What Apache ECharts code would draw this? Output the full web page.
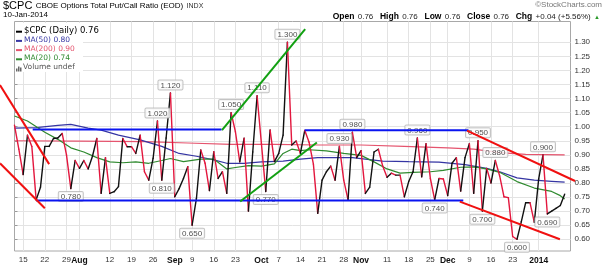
<!DOCTYPE html>
<html>
<head>
<meta charset="utf-8">
<script src="https://cdn.jsdelivr.net/npm/echarts@6.0.0/dist/echarts.min.js"></script>
<style>
html,body{margin:0;padding:0;background:#fff;}
#chart{width:605px;height:270px;}
</style>
</head>
<body>
<div id="chart"></div>
<script>
// ---------- DATA ----------
// trading-day index 0 = 11-Jul-2013 ... 127 = 10-Jan-2014
const tickIdx = [2,7,12,15,22,27,32,37,41,46,51,57,61,66,71,76,80,86,91,96,100,105,110,115,121];
const tickText = ['15','22','29','Aug','12','19','26','Sep','9','16','23','Oct','7','14','21','28','Nov','11','18','25','Dec','9','16','23','2014'];
const monthTicks = ['Aug','Sep','Oct','Nov','Dec','2014'];
const yTicks = [0.60,0.65,0.70,0.75,0.80,0.85,0.90,0.95,1.00,1.05,1.10,1.15,1.20,1.25,1.30];
const lastDate = '10-Jan-2014';

const cpc = [
 1.005,0.92,0.83,0.97,0.93,0.74,0.785,0.93,0.93,0.958,
 0.96,0.976,0.90,0.78,0.88,0.852,0.88,0.85,0.895,0.958,
 0.763,0.89,0.763,0.769,0.787,0.958,0.929,0.929,0.905,0.97,
 0.84,0.81,0.888,1.02,0.81,0.96,1.12,0.751,0.78,0.816,
 0.858,0.65,0.745,0.917,0.87,0.773,0.911,0.816,0.84,0.763,
 1.05,0.982,0.875,0.959,0.70,0.91,1.11,0.94,0.77,0.988,
 0.876,0.905,0.97,1.30,0.935,0.949,0.905,0.987,0.945,0.867,
 0.692,0.81,0.84,0.86,0.81,0.93,0.81,0.74,0.98,0.89,
 0.915,0.763,0.785,0.91,0.92,0.86,0.82,0.835,0.828,0.828,
 0.751,0.805,0.84,0.96,0.822,0.94,0.816,0.74,0.816,0.814,
 0.755,0.87,0.89,0.771,0.89,0.94,0.763,0.95,0.70,0.852,
 0.80,0.88,0.825,0.751,0.748,0.61,0.60,0.663,0.73,0.73,
 0.66,0.814,0.90,0.69,0.70,0.71,0.72,0.76
];

const ma50 = [[0,0.995],[5,0.997],[10,1.005],[13,1.008],[17,0.995],[20,0.988],[24,0.97],[29,0.953],[34,0.93],[38,0.905],[42,0.895],[46,0.882],[49,0.87],[53,0.87],[57,0.875],[62,0.878],[66,0.885],[70,0.89],[78,0.89],[85,0.878],[91,0.876],[98,0.874],[104,0.865],[109,0.852],[112,0.84],[116,0.818],[120,0.81],[124,0.806],[127,0.803]];
const ma200 = [[0,0.95],[15,0.949],[30,0.947],[40,0.942],[50,0.937],[60,0.937],[70,0.935],[80,0.935],[90,0.93],[100,0.925],[106,0.92],[112,0.908],[118,0.902],[127,0.90]];
const ma20 = [[0,1.038],[3,1.02],[7,0.98],[10,0.955],[13,0.925],[16,0.91],[19,0.89],[22,0.875],[25,0.872],[28,0.875],[31,0.87],[34,0.88],[36,0.887],[39,0.876],[43,0.885],[46,0.885],[49,0.85],[51,0.855],[54,0.862],[57,0.86],[60,0.868],[62,0.905],[64,0.92],[66,0.915],[68,0.918],[72,0.914],[76,0.905],[80,0.898],[83,0.875],[86,0.85],[89,0.835],[92,0.838],[96,0.84],[99,0.845],[103,0.856],[106,0.857],[109,0.85],[112,0.838],[116,0.805],[120,0.782],[124,0.77],[126,0.755],[127,0.743]];

const peakIdx = [33,36,50,56,63,75,78,93,107,111,122];
const troughIdx = [13,34,41,58,97,108,116,123];

// trend lines: [x1, y1, x2, y2]
const trendBlue = [[4.2,0.99,47.8,0.99], [5,0.738,103.6,0.738], [67,0.987,104.8,0.987]];
const trendGreen = [[47.9,0.988,67.1,1.347], [52.1,0.734,69.8,0.944]];
const trendRed = [[-3.35,1.148,8.0,0.867], [-3.35,0.87,7.0,0.71], [104.45,0.986,129.4,0.807], [102.8,0.734,125.9,0.60]];

// ---------- CHART ----------
const FONT = 'Liberation Sans, Arial, sans-serif';
const C_UP = '#111111', C_DN = '#e3173e';
const C50 = '#3535a3', C200 = '#e5546e', C20 = '#2f8a2f';
const last = cpc[cpc.length-1], prev = cpc[cpc.length-2];
const chg = last - prev, pct = chg / prev * 100;

const segs = cpc.slice(0,-1).map((v,i)=>[i, v, cpc[i+1]]);

function trendSeries(lines, color){
  return {
    type:'custom', data:lines, encode:{x:[0,2], y:[1,3]}, z:6, silent:true, clip:false,
    renderItem:(params, api) => {
      const p0 = api.coord([api.value(0), api.value(1)]);
      const p1 = api.coord([api.value(2), api.value(3)]);
      return {type:'line', shape:{x1:p0[0], y1:p0[1], x2:p1[0], y2:p1[1]},
        style:{stroke:color, lineWidth:2}};
    }
  };
}

const labelStyle = {
  show:true, fontSize:8, fontFamily:FONT, color:'#222',
  backgroundColor:'#fff', borderColor:'#b5b5b5', borderWidth:1,
  padding:[1,2,0,2], borderRadius:1,
  formatter: p => p.value[1].toFixed(3)
};

const legendRows = [
  {t:'$CPC (Daily) ' + last.toFixed(2), c:'#000', f:'8.5px DejaVu Sans'},
  {t:'MA(50) ' + ma50[ma50.length-1][1].toFixed(2), c:C50, f:'7.5px DejaVu Sans'},
  {t:'MA(200) ' + ma200[ma200.length-1][1].toFixed(2), c:C200, f:'7.5px DejaVu Sans'},
  {t:'MA(20) ' + ma20[ma20.length-1][1].toFixed(2), c:C20, f:'7.5px DejaVu Sans'}
];
const legendGraphics = [{type:'rect', left:15, top:23, shape:{width:68, height:49}, style:{fill:'#fff'}, z:20}];
legendRows.forEach((r,k)=>{
  const cy = 31.7 + k*9.2;
  legendGraphics.push({type:'rect', left:16, top:cy-1, shape:{width:6, height:2}, style:{fill:r.c}, z:21});
  legendGraphics.push({type:'text', left:24, top:cy-5, style:{text:r.t, font:r.f, fill:r.c}, z:21});
});
{
  const cy = 31.7 + 4*9.2;
  [[0,3],[2,5],[4,4]].forEach(b=>legendGraphics.push({type:'rect', left:16+b[0], top:cy+3-b[1], shape:{width:1.5, height:b[1]}, style:{fill:'#666'}, z:21}));
  legendGraphics.push({type:'text', left:23, top:cy-5, style:{text:'Volume undef', font:'7.5px DejaVu Sans', fill:'#555'}, z:21});
}

const header = [
  {type:'text', left:3, top:0, style:{
    text:'{a|$CPC} {b|CBOE Options Total Put/Call Ratio (EOD)} {c|INDX}',
    rich:{a:{font:'11px '+FONT, fill:'#000'}, b:{font:'8px '+FONT, fill:'#000'}, c:{font:'7px '+FONT, fill:'#333'}}
  }},
  {type:'text', left:3, top:11, style:{text:lastDate, font:'8px '+FONT, fill:'#000'}},
  {type:'text', right:3, top:1, style:{text:'\u00a9StockCharts.com', font:'8px '+FONT, fill:'#777'}},
  {type:'text', right:5, top:11, style:{
    text:'{l|Open} {v|'+last.toFixed(2)+'}  {l|High} {v|'+last.toFixed(2)+'}  {l|Low} {v|'+last.toFixed(2)+'}  {l|Close} {v|'+last.toFixed(2)+'}  {l|Chg} {v|'+(chg>=0?'+':'')+chg.toFixed(2)+' ('+(pct>=0?'+':'')+pct.toFixed(2)+'%)} {g|\u25b2}',
    rich:{l:{font:'bold 8.5px '+FONT, fill:'#000'}, v:{font:'8px '+FONT, fill:'#222'}, g:{font:'6px '+FONT, fill:'#2a9a2a'}}
  }}
];

const option = {
  animation:false,
  backgroundColor:'#fff',
  grid:{left:14.5, right:34.5, top:21.5, bottom:19, show:true, borderColor:'#a8a8a8', borderWidth:1, backgroundColor:'#fff'},
  xAxis:{
    type:'value', min:0, max:128.35,
    axisLine:{show:false},
    axisTick:{show:false, customValues:tickIdx},
    axisLabel:{
      customValues:tickIdx, fontSize:8, fontFamily:FONT, color:'#333', margin:5,
      formatter: v => { const t = tickText[tickIdx.indexOf(Math.round(v))] || ''; return monthTicks.includes(t) ? '{b|'+t+'}' : t; },
      rich:{b:{fontWeight:'bold', fontSize:8.5, fontFamily:FONT, color:'#111'}}
    },
    splitLine:{show:true, lineStyle:{color:'#e3e3e3', width:1}}
  },
  yAxis:{
    type:'value', position:'right', min:0.5584, max:1.3737,
    axisLine:{show:false},
    axisTick:{show:true, length:3, customValues:yTicks, lineStyle:{color:'#999'}},
    axisLabel:{customValues:yTicks, fontSize:8, fontFamily:FONT, color:'#333', margin:4, formatter: v => v.toFixed(2)},
    splitLine:{show:true, lineStyle:{color:'#e3e3e3', width:1}}
  },
  graphic: header.concat(legendGraphics),
  series: [
    {type:'line', data:ma200, symbol:'none', lineStyle:{color:C200, width:1.2}, z:1, silent:true},
    {type:'line', data:ma50, symbol:'none', lineStyle:{color:C50, width:1.2}, z:1, silent:true},
    {type:'line', data:ma20, symbol:'none', lineStyle:{color:C20, width:1.2}, z:1, silent:true},
    {
      type:'custom', data:segs, encode:{x:0, y:[1,2]}, z:3, silent:true,
      renderItem:(params, api) => {
        const p0 = api.coord([api.value(0), api.value(1)]);
        const p1 = api.coord([api.value(0)+1, api.value(2)]);
        const up = api.value(2) >= api.value(1);
        return {type:'line', shape:{x1:p0[0], y1:p0[1], x2:p1[0], y2:p1[1]},
          style:{stroke: up ? C_UP : C_DN, lineWidth:1.4, lineCap:'round'}};
      }
    },
    {type:'scatter', data:peakIdx.map(i=>[i,cpc[i]]), symbolSize:1, itemStyle:{color:'rgba(0,0,0,0)'}, z:4,
      label:Object.assign({position:'top', distance:3}, labelStyle)},
    {type:'scatter', data:troughIdx.map(i=>[i,cpc[i]]), symbolSize:1, itemStyle:{color:'rgba(0,0,0,0)'}, z:4,
      label:Object.assign({position:'bottom', distance:3}, labelStyle)},
    trendSeries(trendBlue,'#0a14f0'),
    trendSeries(trendGreen,'#12a012'),
    trendSeries(trendRed,'#f01010')
  ]
};

const chart = echarts.init(document.getElementById('chart'));
chart.setOption(option);
</script>
</body>
</html>
